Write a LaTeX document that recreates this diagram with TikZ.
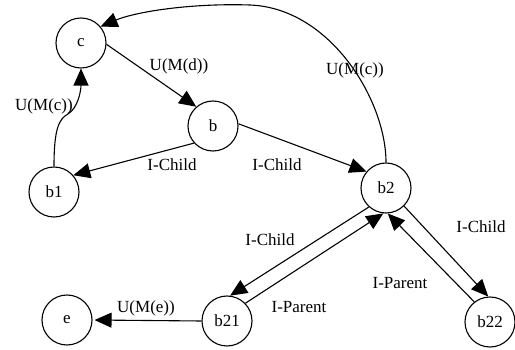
\documentclass[tikz,border=0pt]{standalone}
\usepackage{fontspec}
\setmainfont{Liberation Serif}
\usetikzlibrary{arrows.meta}
\begin{document}
\begin{tikzpicture}[x=1pt,y=-1pt,
  state/.style={circle,draw,line width=1.1pt,minimum size=50pt,inner sep=0pt,font=\fontsize{17}{20}\selectfont},
  edge/.style={line width=1.1pt,-{Triangle[length=17pt,width=15pt]}},
  lbl/.style={font=\fontsize{17}{20}\selectfont,inner sep=0pt}]
  \useasboundingbox (0,0) rectangle (515,350);

  % states
  \node[state] (c)   at (81,43)   {c};
  \node[state] (b)   at (213,126) {b};
  \node[state] (b1)  at (54,192)  {b1};
  \node[state] (b2)  at (386,188) {b2};
  \node[state] (b21) at (227,321) {b21};
  \node[state] (b22) at (490,322) {b22};
  \node[state] (e)   at (67,320)  {e};

  % transitions
  \draw[edge] (c.-3) -- (b.131);
  \draw[edge] (b.222) -- (b1.41);
  \draw[edge] (b.5) -- (b2.140);
  \draw[edge] (b1.north) .. controls +(0,-38) and +(-9,5) .. (68,114)
                         .. controls +(10,-6) and +(0,22) .. (c.south);
  \draw[edge] (b2.north) .. controls (386,100) and (330,8) .. (250,5)
                         .. controls (190,3) and (135,12) .. (c.40);
  \draw[edge] (b2.228) -- (b21.83);
  \draw[edge] (b21.44) -- (b2.264);
  \draw[edge] (b2.315) -- (b22.94);
  \draw[edge] (b22.128) -- (b2.274);
  \draw[edge,shorten >=2pt] (b21.west) -- (e.east);

  % labels
  \node[lbl] (l1)  at (179,66)  {U(M(d))};
  \node[lbl] (l2)  at (172,165) {I-Child};
  \node[lbl] (l3)  at (277,165) {I-Child};
  \node[lbl] (l4)  at (44,106)  {U(M(c))};
  \node[lbl] (l5)  at (355,70)  {U(M(c))};
  \node[lbl] (l6)  at (270,240) {I-Child};
  \node[lbl] (l7)  at (299,307) {I-Parent};
  \node[lbl] (l8)  at (400,283) {I-Parent};
  \node[lbl] (l9)  at (481,227) {I-Child};
  \node[lbl] (l10) at (146,308) {U(M(e))};
\end{tikzpicture}
\end{document}
